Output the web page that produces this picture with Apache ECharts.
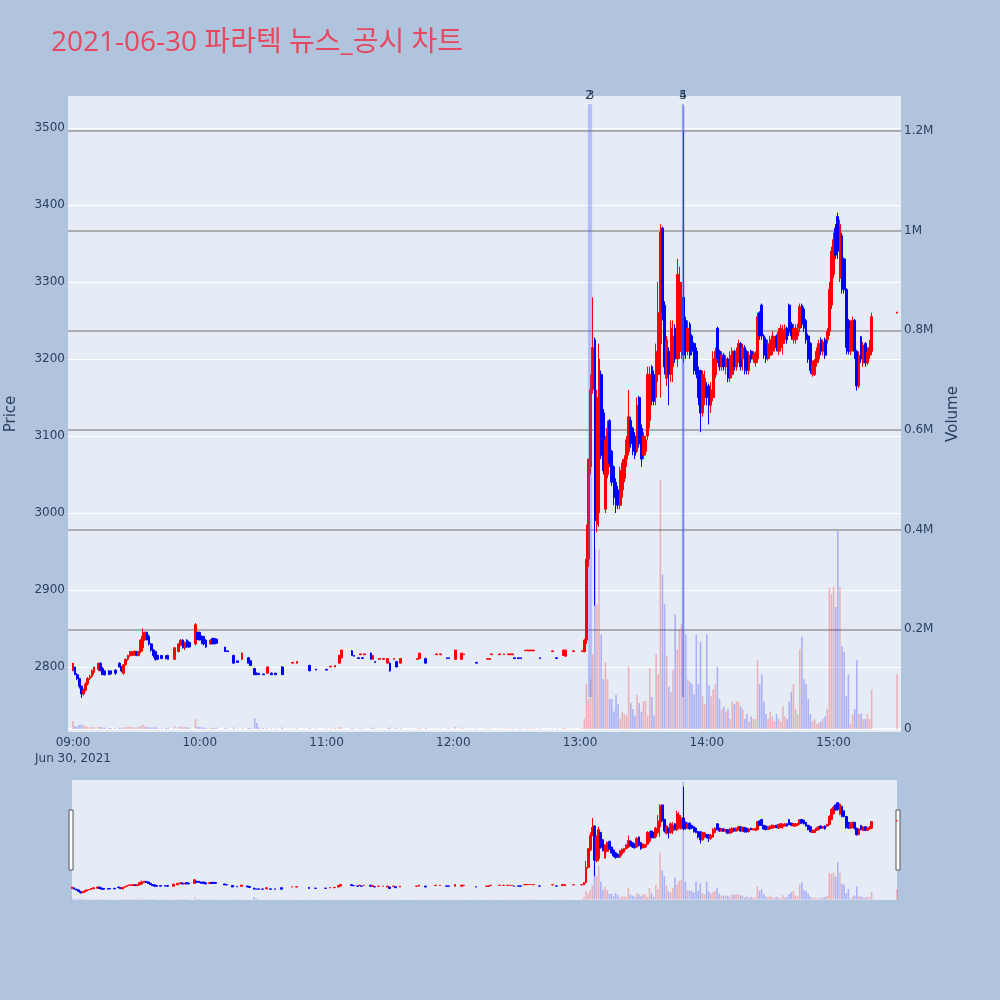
<!DOCTYPE html>
<html>
<head>
<meta charset="utf-8">
<script src="https://cdn.jsdelivr.net/npm/echarts@6/dist/echarts.min.js"></script>
<style>
html,body{margin:0;padding:0;background:#B0C4DE;}
#chart{width:1000px;height:1000px;}
</style>
</head>
<body>
<div id="chart"></div>
<script>
// ---------------- DATA (1-minute bars, 2021-06-30) ----------------
const times = [
'09:00','09:01','09:02','09:03','09:04','09:05','09:06','09:07','09:08','09:09',
'09:10','09:12','09:13','09:14','09:15','09:17','09:18','09:20','09:22','09:23',
'09:24','09:25','09:26','09:27','09:28','09:29','09:30','09:31','09:32','09:33',
'09:34','09:35','09:36','09:37','09:38','09:39','09:40','09:42','09:44','09:45',
'09:48','09:50','09:51','09:52','09:53','09:54','09:55','09:58','09:59','10:00',
'10:01','10:02','10:03','10:05','10:06','10:07','10:08','10:12','10:13','10:16',
'10:18','10:20','10:23','10:24','10:26','10:27','10:28','10:30','10:32','10:34',
'10:36','10:39','10:44','10:46','10:52','10:55','11:00','11:02','11:04','11:06',
'11:07','11:12','11:13','11:15','11:16','11:17','11:18','11:21','11:22','11:23',
'11:25','11:27','11:29','11:30','11:32','11:33','11:35','11:43','11:44','11:47',
'11:52','11:54','11:57','11:58','12:01','12:04','12:05','12:11','12:16','12:17',
'12:18','12:22','12:24','12:26','12:27','12:28','12:29','12:31','12:32','12:34',
'12:35','12:36','12:37','12:38','12:41','12:47','12:49','12:52','12:53','12:57',
'13:01','13:02','13:03','13:04','13:05','13:06','13:07','13:08','13:09','13:10',
'13:11','13:12','13:13','13:14','13:15','13:16','13:17','13:18','13:19','13:20',
'13:21','13:22','13:23','13:24','13:25','13:26','13:27','13:28','13:29','13:30',
'13:31','13:32','13:33','13:34','13:35','13:36','13:37','13:38','13:39','13:40',
'13:41','13:42','13:43','13:44','13:45','13:46','13:47','13:48','13:49','13:50',
'13:51','13:52','13:53','13:54','13:55','13:56','13:57','13:58','13:59','14:00',
'14:01','14:02','14:03','14:04','14:05','14:06','14:07','14:08','14:09','14:10',
'14:11','14:12','14:13','14:14','14:15','14:16','14:17','14:18','14:19','14:20',
'14:21','14:22','14:23','14:24','14:25','14:26','14:27','14:28','14:29','14:30',
'14:31','14:32','14:33','14:34','14:35','14:36','14:37','14:38','14:39','14:40',
'14:41','14:42','14:43','14:44','14:45','14:46','14:47','14:48','14:49','14:50',
'14:51','14:52','14:53','14:54','14:55','14:56','14:57','14:58','14:59','15:00',
'15:01','15:02','15:03','15:04','15:05','15:06','15:07','15:08','15:09','15:10',
'15:11','15:12','15:13','15:14','15:15','15:16','15:17','15:18','15:30'
];
const opens = [
2795,2800,2790,2785,2775,2765,2770,2778,2785,2788,
2793,2797,2805,2798,2795,2795,2795,2796,2805,2800,
2792,2803,2810,2815,2815,2816,2820,2815,2820,2825,
2835,2845,2840,2830,2822,2820,2815,2815,2815,2815,
2810,2820,2828,2835,2825,2835,2832,2830,2845,2845,
2840,2840,2835,2830,2837,2837,2836,2826,2821,2815,
2808,2810,2812,2808,2798,2792,2792,2791,2792,2792,
2792,2800,2805,2805,2802,2797,2797,2800,2800,2805,
2812,2821,2815,2812,2816,2812,2816,2818,2810,2807,
2810,2810,2805,2805,2810,2807,2805,2810,2811,2811,
2816,2816,2812,2812,2810,2810,2816,2806,2810,2810,
2816,2816,2816,2816,2816,2816,2812,2812,2812,2821,
2821,2821,2821,2821,2812,2820,2812,2815,2814,2820,
2820,2820,2835,2940,3060,3160,3225,2985,3000,3180,
3130,3005,3050,3120,3080,3060,3040,3030,3010,3030,
3045,3070,3080,3120,3110,3100,3080,3150,3110,3075,
3080,3100,3120,3190,3180,3150,3180,3220,3370,3270,
3175,3210,3180,3190,3240,3200,3210,3210,3280,3250,
3210,3245,3230,3220,3210,3185,3185,3130,3150,3165,
3165,3140,3150,3180,3240,3210,3190,3205,3190,3200,
3175,3180,3210,3190,3200,3220,3200,3215,3210,3185,
3210,3200,3195,3200,3260,3270,3230,3225,3200,3205,
3210,3215,3230,3210,3215,3220,3225,3240,3270,3245,
3225,3225,3230,3240,3270,3265,3250,3230,3220,3180,
3180,3195,3200,3225,3210,3225,3225,3236,3270,3310,
3370,3385,3305,3360,3330,3290,3250,3210,3215,3250,
3210,3165,3229,3195,3220,3195,3205,3210,3260
];
const highs = [
2805,2800,2792,2786,2776,2772,2780,2787,2790,2797,
2800,2805,2806,2800,2795,2796,2795,2797,2806,2801,
2803,2811,2816,2821,2821,2822,2821,2821,2836,2850,
2846,2846,2842,2831,2823,2821,2816,2815,2815,2816,
2826,2831,2836,2836,2833,2836,2834,2857,2846,2846,
2841,2840,2836,2836,2838,2838,2837,2826,2821,2816,
2808,2819,2813,2809,2799,2793,2792,2791,2801,2793,
2792,2801,2806,2807,2803,2797,2797,2801,2802,2816,
2822,2822,2815,2812,2817,2812,2817,2819,2815,2807,
2811,2811,2811,2806,2811,2808,2811,2811,2818,2812,
2817,2817,2812,2812,2822,2818,2817,2806,2811,2811,
2817,2817,2817,2817,2817,2817,2812,2812,2812,2822,
2822,2822,2822,2822,2812,2821,2812,2822,2822,2821,
2821,2837,2985,3070,3180,3280,3228,3160,3220,3185,
3135,3100,3120,3122,3082,3062,3045,3035,3060,3070,
3075,3100,3160,3125,3112,3105,3150,3152,3115,3105,
3100,3190,3190,3192,3185,3220,3300,3375,3372,3275,
3230,3215,3250,3250,3245,3330,3320,3300,3495,3255,
3250,3248,3232,3222,3215,3190,3186,3185,3185,3170,
3168,3170,3210,3215,3242,3212,3210,3208,3205,3202,
3210,3215,3212,3215,3225,3222,3220,3218,3212,3210,
3212,3210,3210,3260,3262,3272,3232,3228,3225,3230,
3236,3230,3232,3240,3245,3244,3245,3242,3272,3248,
3246,3245,3246,3272,3272,3268,3252,3233,3222,3198,
3200,3215,3225,3228,3225,3228,3240,3300,3346,3364,
3375,3390,3381,3364,3332,3292,3252,3250,3255,3252,
3212,3210,3230,3222,3222,3215,3225,3260,3261
];
const lows = [
2795,2790,2783,2772,2760,2763,2768,2776,2783,2786,
2790,2795,2795,2790,2789,2790,2790,2790,2800,2793,
2790,2802,2808,2813,2814,2815,2814,2814,2818,2820,
2834,2835,2828,2820,2812,2808,2810,2810,2810,2810,
2809,2819,2827,2824,2822,2825,2825,2828,2835,2835,
2830,2828,2825,2829,2830,2830,2830,2820,2820,2805,
2806,2809,2805,2802,2790,2790,2790,2790,2792,2790,
2790,2790,2805,2805,2795,2796,2796,2800,2800,2805,
2811,2815,2814,2811,2816,2811,2816,2810,2810,2806,
2810,2810,2805,2794,2810,2800,2805,2810,2811,2805,
2816,2816,2811,2811,2810,2810,2816,2805,2810,2810,
2816,2816,2816,2816,2816,2816,2811,2811,2811,2821,
2821,2821,2821,2821,2811,2820,2811,2815,2814,2820,
2820,2819,2830,2930,3050,3155,2880,2975,2982,3070,
3050,3000,3045,3060,3035,3010,3000,3005,3005,3020,
3040,3060,3075,3085,3075,3070,3078,3085,3060,3070,
3075,3095,3110,3140,3140,3140,3170,3150,3250,3180,
3165,3140,3170,3170,3195,3190,3200,3200,3195,3200,
3205,3200,3205,3180,3175,3140,3105,3125,3140,3140,
3115,3130,3145,3175,3195,3185,3185,3185,3180,3170,
3170,3175,3185,3185,3195,3185,3185,3180,3180,3180,
3195,3195,3190,3195,3225,3225,3200,3195,3198,3200,
3205,3210,3210,3205,3210,3206,3220,3220,3230,3225,
3220,3220,3225,3235,3240,3235,3220,3195,3181,3177,
3178,3190,3195,3205,3205,3200,3220,3230,3265,3305,
3330,3330,3300,3285,3285,3206,3206,3205,3210,3200,
3159,3162,3195,3190,3190,3192,3200,3205,3259
];
const closes = [
2805,2790,2785,2775,2765,2770,2778,2785,2788,2795,
2800,2805,2795,2790,2790,2790,2791,2792,2800,2795,
2803,2810,2815,2820,2820,2820,2815,2820,2835,2840,
2845,2835,2830,2822,2815,2810,2810,2811,2811,2810,
2825,2830,2835,2825,2832,2826,2826,2855,2836,2835,
2830,2830,2826,2835,2830,2830,2831,2820,2820,2805,
2806,2818,2805,2802,2790,2790,2790,2790,2800,2790,
2790,2790,2806,2807,2795,2796,2796,2801,2802,2815,
2822,2815,2814,2811,2817,2811,2817,2810,2815,2806,
2811,2811,2811,2795,2811,2800,2811,2811,2818,2805,
2817,2817,2811,2811,2822,2818,2817,2805,2811,2811,
2817,2817,2817,2817,2817,2817,2811,2811,2811,2822,
2822,2822,2822,2822,2811,2821,2811,2822,2822,2821,
2821,2835,2940,3070,3160,3215,2990,3150,3200,3075,
3055,3095,3110,3065,3040,3020,3010,3010,3055,3065,
3070,3095,3125,3090,3080,3075,3140,3090,3070,3100,
3095,3180,3180,3145,3145,3210,3260,3365,3260,3190,
3225,3180,3240,3230,3200,3310,3300,3280,3205,3210,
3240,3205,3210,3185,3180,3150,3130,3180,3175,3150,
3140,3160,3200,3210,3200,3190,3205,3190,3200,3175,
3205,3210,3190,3210,3220,3190,3215,3185,3185,3205,
3200,3205,3208,3255,3230,3230,3205,3200,3220,3225,
3230,3225,3215,3235,3240,3238,3240,3225,3235,3230,
3240,3240,3238,3268,3245,3240,3225,3200,3185,3195,
3198,3210,3220,3210,3222,3205,3236,3290,3340,3355,
3335,3340,3375,3290,3290,3215,3210,3240,3250,3210,
3165,3205,3200,3218,3195,3210,3215,3255,3261
];
const volumes = [
16000,6000,5000,8000,9000,7000,5000,4000,3000,4000,
3000,5000,4000,3000,3000,2000,2000,2000,3000,2000,
4000,3000,4000,5000,4000,3000,3000,4000,6000,9000,
5000,4000,3000,3000,3000,4000,2000,2000,2000,3000,
5000,4000,5000,3000,4000,3000,3000,20000,5000,4000,
3000,3000,2000,3000,2000,2000,3000,2000,1000,3000,
1000,3000,2000,2000,22000,12000,3000,2000,3000,1000,
1000,3000,1000,2000,2000,1000,1000,1000,2000,3000,
4000,2000,1000,1000,1000,1000,1000,3000,2000,1000,
1000,1000,2000,3000,1000,2000,2000,1000,2000,2000,
1000,1000,1000,1000,4000,3000,1000,1000,1000,1000,
1000,1000,1000,1000,1000,1000,1000,1000,1000,1000,
1000,1000,1000,1000,1000,1000,1000,2000,2000,1000,
2000,20000,90000,60000,100000,150000,360000,250000,360000,190000,
100000,134000,100000,60000,60000,35000,68000,50000,20000,35000,
30000,27000,126000,52000,40000,27000,68000,52000,35000,56000,
56000,27000,122000,64000,27000,150000,110000,500000,310000,250000,
147000,85000,75000,118000,230000,160000,200000,210000,1250000,190000,
100000,95000,90000,70000,190000,90000,175000,66000,50000,190000,
88000,66000,80000,90000,125000,60000,40000,45000,35000,40000,
20000,55000,50000,55000,55000,45000,40000,20000,30000,15000,
25000,20000,20000,138000,90000,110000,55000,30000,20000,35000,
25000,15000,30000,20000,15000,45000,25000,20000,55000,75000,
90000,40000,30000,160000,185000,100000,90000,60000,30000,15000,
20000,10000,12000,15000,20000,25000,40000,283000,270000,286000,
245000,397000,286000,166000,155000,66000,110000,10000,30000,40000,
138000,30000,30000,20000,20000,30000,20000,79000,110000
];
// news annotations (label, time)
const newsLabels = ['2','3','4','5'];
const newsTimes = ['13:04:10','13:04:55','13:48:48','13:48:48'];
// axis ticks
const hourTicks = ['09:00','10:00','11:00','12:00','13:00','14:00','15:00'];
const dateLabel = 'Jun 30, 2021';
const priceTicks = [2800,2900,3000,3100,3200,3300,3400,3500];
const volumeTicks = [0,200000,400000,600000,800000,1000000,1200000];
const titleText = '2021-06-30 파라텍 뉴스_공시 차트';

// ---------------- LAYOUT / STYLE ----------------
const X_MIN = -2.37, X_MAX = 391.9;
const P_MIN = 2715.6, P_MAX = 3541.6;
const V_MIN = -6000, V_MAX = 1270300;
const ANN_TOP = 3531, ANN_BOTTOM = 2761;
const UP = '#ff0000', DOWN = '#0000ff';
const UP_VOL = 'rgba(255,0,0,0.25)', DOWN_VOL = 'rgba(0,0,255,0.25)';
const TITLE_FONT = '"Open Sans", "Noto Sans CJK KR", sans-serif';
const FONT = '"DejaVu Sans", Verdana, sans-serif';
const TXT = '#2a3f5f';

function toMin(t) {
  const p = t.split(':').map(Number);
  return (p[0] - 9) * 60 + p[1] + (p[2] || 0) / 60;
}
function hh(v) {
  const h = 9 + Math.round(v / 60);
  return (h < 10 ? '0' : '') + h + ':00';
}
function volFmt(v) {
  if (v === 0) return '0';
  return (Math.round(v / 100000) / 10) + 'M';
}

const candleData = times.map((t, i) => [toMin(t), opens[i], closes[i], lows[i], highs[i]]);
const volData = times.map((t, i) => ({
  value: [toMin(t), volumes[i]],
  itemStyle: { color: closes[i] >= opens[i] ? UP_VOL : DOWN_VOL }
}));

const annLines = newsLabels.map((lab, i) => [
  { coord: [toMin(newsTimes[i]), ANN_TOP],
    label: { show: true, position: 'start', formatter: lab, color: TXT, fontSize: 12, fontFamily: FONT, distance: 2 } },
  { coord: [toMin(newsTimes[i]), ANN_BOTTOM] }
]);

const candleStyle = { color: UP, color0: DOWN, borderColor: UP, borderColor0: DOWN, borderWidth: 1 };

const option = {
  backgroundColor: '#B0C4DE',
  animation: false,
  title: {
    text: titleText, left: 46, top: 24,
    textStyle: { color: '#e8485f', fontSize: 28, fontWeight: 'normal', fontFamily: TITLE_FONT }
  },
  grid: [
    { left: 68, top: 96, width: 833, height: 636, show: true, backgroundColor: '#E5ECF6', borderWidth: 0,
      containLabel: false, outerBoundsMode: 'none' },
    { left: 72, top: 780, width: 825, height: 120, show: true, backgroundColor: '#E5ECF6', borderWidth: 0,
      containLabel: false, outerBoundsMode: 'none' }
  ],
  xAxis: [
    { type: 'value', gridIndex: 0, min: X_MIN, max: X_MAX,
      axisLine: { show: false }, axisTick: { show: false, customValues: hourTicks.map(toMin) }, splitLine: { show: false },
      axisLabel: { customValues: hourTicks.map(toMin), color: TXT, fontSize: 12, fontFamily: FONT, margin: 3, lineHeight: 16,
        formatter: v => (v === 0 ? hh(v) + '\n' + dateLabel : hh(v)) } },
    { type: 'value', gridIndex: 1, min: 0, max: 390, show: false, splitLine: { show: false } }
  ],
  yAxis: [
    { type: 'value', gridIndex: 0, position: 'left', min: P_MIN, max: P_MAX,
      axisLine: { show: false }, axisTick: { show: false, customValues: priceTicks },
      axisLabel: { customValues: priceTicks, color: TXT, fontSize: 12, fontFamily: FONT, margin: 3, formatter: v => String(v) },
      splitLine: { show: true, lineStyle: { color: '#ffffff', width: 1 } },
      name: 'Price', nameLocation: 'middle', nameGap: 49, nameRotate: 90,
      nameTextStyle: { color: TXT, fontSize: 15, fontFamily: FONT } },
    { type: 'value', gridIndex: 0, position: 'right', min: V_MIN, max: V_MAX,
      axisLine: { show: false }, axisTick: { show: false, customValues: volumeTicks },
      axisLabel: { customValues: volumeTicks, color: TXT, fontSize: 12, fontFamily: FONT, margin: 3, formatter: volFmt },
      splitLine: { show: true, lineStyle: { color: ['#ffffff', '#999999', '#999999', '#999999', '#999999', '#999999', '#999999'], width: 1.6 } },
      name: 'Volume', nameLocation: 'middle', nameGap: 45, nameRotate: 90,
      nameTextStyle: { color: TXT, fontSize: 15, fontFamily: FONT } },
    { type: 'value', gridIndex: 1, min: P_MIN, max: P_MAX, show: false, splitLine: { show: false } },
    { type: 'value', gridIndex: 1, min: V_MIN, max: V_MAX, show: false, splitLine: { show: false } }
  ],
  series: [
    { type: 'bar', name: 'Volume', xAxisIndex: 0, yAxisIndex: 1, data: volData, barWidth: 1.6, silent: true },
    { type: 'candlestick', name: 'Price', xAxisIndex: 0, yAxisIndex: 0, data: candleData,
      dimensions: ['t', 'open', 'close', 'low', 'high'],
      encode: { x: 't', y: ['open', 'close', 'low', 'high'] },
      barWidth: 2.2, itemStyle: candleStyle, silent: true,
      markLine: { silent: true, symbol: ['none', 'none'], animation: false,
        lineStyle: { color: 'rgba(80,105,245,0.32)', width: 2.2, type: 'solid' },
        data: annLines } },
    { type: 'bar', xAxisIndex: 1, yAxisIndex: 3, data: volData, barWidth: 1.6, silent: true },
    { type: 'candlestick', xAxisIndex: 1, yAxisIndex: 2, data: candleData,
      dimensions: ['t', 'open', 'close', 'low', 'high'],
      encode: { x: 't', y: ['open', 'close', 'low', 'high'] },
      barWidth: 2.2, itemStyle: candleStyle, silent: true }
  ],
  graphic: [
    { type: 'rect', shape: { x: 69, y: 810, width: 4, height: 60 }, style: { fill: '#ffffff', stroke: '#555555', lineWidth: 1 } },
    { type: 'rect', shape: { x: 896, y: 810, width: 4, height: 60 }, style: { fill: '#ffffff', stroke: '#555555', lineWidth: 1 } }
  ]
};

const chart = echarts.init(document.getElementById('chart'), null, { renderer: 'canvas' });
chart.setOption(option);
</script>
</body>
</html>
